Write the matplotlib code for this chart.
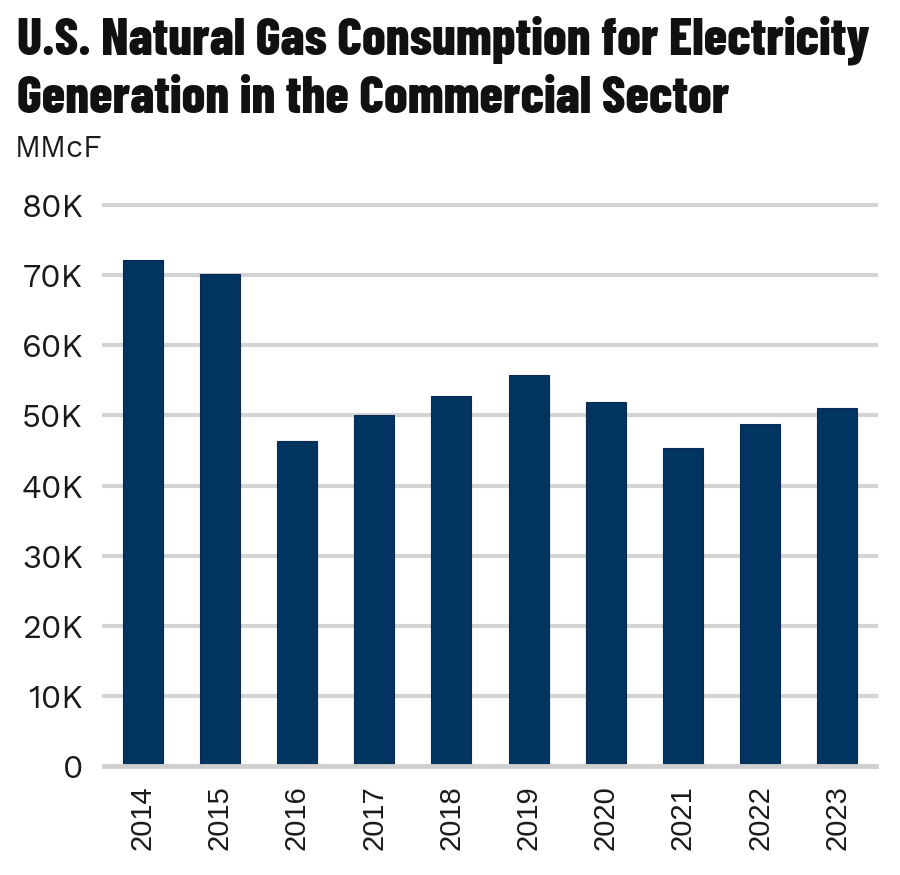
import matplotlib
matplotlib.use("Agg")
import matplotlib.pyplot as plt

years = ["2014", "2015", "2016", "2017", "2018", "2019", "2020", "2021", "2022", "2023"]
values = [72100, 70200, 46300, 50100, 52700, 55700, 51900, 45400, 48700, 51000]
yticks = [0, 10000, 20000, 30000, 40000, 50000, 60000, 70000, 80000]
ytick_labels = ["0", "10K", "20K", "30K", "40K", "50K", "60K", "70K", "80K"]

fig = plt.figure(figsize=(9, 8.75), dpi=100)
ax = fig.add_axes([104/900, 1-766/875, (876-104)/900, (766-205)/875])

x = list(range(len(years)))
ax.bar(x, values, width=0.52, color="#013461", edgecolor="#0a2a50", linewidth=0.8, zorder=3)

ax.set_xlim(-0.5, len(years) - 0.5)
ax.set_ylim(0, 80000)
ax.set_yticks(yticks)
ax.set_yticklabels(ytick_labels, family=["Work Sans", "Inter", "DejaVu Sans"], fontweight=300, fontsize=23.5, color="#1a1a1a")
ax.set_xticks(x)
ax.set_xticklabels(years, rotation=90, family="Liberation Sans", fontsize=21, color="#1a1a1a")
ax.tick_params(axis="y", length=0, pad=15)
ax.tick_params(axis="x", length=0, pad=14)

for t in yticks[1:]:
    ax.axhline(t, color="#d4d4d4", linewidth=3, zorder=1, clip_on=False)
ax.axhline(0, color="#cfcfcf", linewidth=3.5, zorder=4, clip_on=False)

for s in ax.spines.values():
    s.set_visible(False)

fig.text(17/900, 1-15/875, "U.S. Natural Gas Consumption for Electricity\nGeneration in the Commercial Sector",
         family=["Barlow Condensed", "DejaVu Sans"], fontweight=800, fontsize=37.8,
         va="top", ha="left", color="#111111", linespacing=1.3)
fig.text(15/900, 1-134/875, "MMcF", family=["Work Sans", "Inter", "DejaVu Sans"], fontweight=300, fontsize=22,
         va="top", ha="left", color="#1a1a1a")

fig.savefig("out.png", dpi=100)
